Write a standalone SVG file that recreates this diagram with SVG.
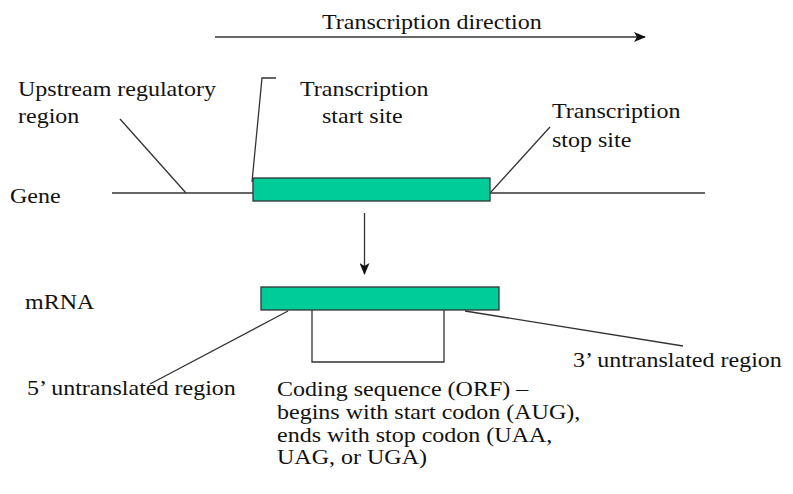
<svg xmlns="http://www.w3.org/2000/svg" width="793" height="494" viewBox="0 0 793 494">
<style>
text{font-family:"Liberation Serif","Times New Roman",serif;font-size:21px;fill:#111}
.ln{stroke:#333;stroke-width:1.3;fill:none}
.box{fill:#00CC99;stroke:#333;stroke-width:1.3}
</style>
<defs>
<marker id="ah" markerWidth="12" markerHeight="10" refX="11" refY="5" orient="auto" markerUnits="userSpaceOnUse">
<path d="M0,0 L12,5 L0,10 L3,5 Z" fill="#111"/>
</marker>
</defs>
<rect width="793" height="494" fill="#fff"/>
<g id="connectors">
<line class="ln" x1="215" y1="37" x2="645" y2="37" marker-end="url(#ah)"/>
<line class="ln" x1="112" y1="193" x2="253" y2="193"/>
<line class="ln" x1="490" y1="193" x2="705" y2="193"/>
<line class="ln" x1="120" y1="119" x2="186" y2="193"/>
<polyline class="ln" points="276,78 262,78 252,182"/>
<line class="ln" x1="550" y1="127" x2="491" y2="192"/>
<line class="ln" x1="364.5" y1="213" x2="364.5" y2="274" marker-end="url(#ah)"/>
<polyline class="ln" points="312,310 312,362 444,362 444,310"/>
<line class="ln" x1="150" y1="384" x2="288" y2="311"/>
<line class="ln" x1="465" y1="311" x2="683" y2="346"/>
</g>
<g id="title"><text transform="matrix(1.143,0,0,1,322,29)">Transcription direction</text></g>
<g id="gene">
<rect class="box" x="253" y="178" width="237" height="23"/>
<text transform="matrix(1.143,0,0,1,10,203)">Gene</text>
</g>
<g id="upstream"><text transform="matrix(1.143,0,0,1,18,96)">Upstream regulatory</text><text transform="matrix(1.143,0,0,1,18,123)">region</text></g>
<g id="start-site"><text transform="matrix(1.143,0,0,1,300,96)">Transcription</text><text transform="matrix(1.143,0,0,1,322,123)">start site</text></g>
<g id="stop-site"><text transform="matrix(1.143,0,0,1,552,118)">Transcription</text><text transform="matrix(1.143,0,0,1,552,147)">stop site</text></g>
<g id="mrna">
<rect class="box" x="261" y="287" width="238" height="23"/>
<text transform="matrix(1.143,0,0,1,25,309)">mRNA</text>
</g>
<g id="utr5"><text transform="matrix(1.143,0,0,1,27,395)">5’ untranslated region</text></g>
<g id="utr3"><text transform="matrix(1.143,0,0,1,573,367)">3’ untranslated region</text></g>
<g id="orf">
<text transform="matrix(1.143,0,0,1,277,396)">Coding sequence (ORF) –</text>
<text transform="matrix(1.143,0,0,1,277,419)">begins with start codon (AUG),</text>
<text transform="matrix(1.143,0,0,1,277,442)">ends with stop codon (UAA,</text>
<text transform="matrix(1.143,0,0,1,277,464)">UAG, or UGA)</text>
</g>
</svg>
